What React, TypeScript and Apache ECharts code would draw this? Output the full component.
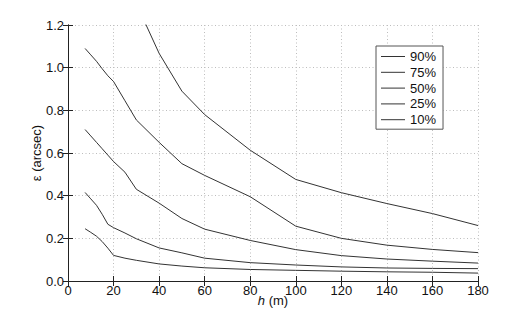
import React, { useEffect, useRef } from 'react';
import * as echarts from 'echarts';

// Height h (m)
const hValues = [7.5, 10, 12.5, 15, 17.5, 20, 25, 30, 40, 50, 60, 80, 100, 120, 140, 160, 180];

// Seeing epsilon (arcsec) per percentile
const p90 = [null, null, null, null, null, null, null, 1.3, 1.067, 0.89, 0.78, 0.613, 0.476, 0.414, 0.363, 0.316, 0.26];
const p75 = [1.09, 1.06, 1.03, 0.995, 0.962, 0.935, 0.845, 0.755, 0.65, 0.55, 0.495, 0.395, 0.257, 0.2, 0.168, 0.148, 0.133];
const p50 = [0.71, 0.68, 0.65, 0.62, 0.59, 0.56, 0.51, 0.43, 0.365, 0.293, 0.243, 0.19, 0.147, 0.119, 0.103, 0.093, 0.084];
const p25 = [0.415, 0.385, 0.355, 0.313, 0.266, 0.25, 0.225, 0.198, 0.155, 0.132, 0.107, 0.086, 0.075, 0.066, 0.061, 0.059, 0.058];
const p10 = [0.245, 0.228, 0.21, 0.185, 0.154, 0.12, 0.107, 0.097, 0.08, 0.07, 0.062, 0.054, 0.05, 0.046, 0.043, 0.041, 0.037];

const seriesNames = ['90%', '75%', '50%', '25%', '10%'];
const seriesValues = [p90, p75, p50, p25, p10];

const xMin = 0;
const xMax = 180;
const xInterval = 20;
const yMin = 0;
const yMax = 1.2;
const yInterval = 0.2;

const FONT = '"Liberation Sans", Arial, Helvetica, sans-serif';
const FS = 13;

export default function App() {
  const ref = useRef<HTMLDivElement>(null);

  useEffect(() => {
    if (!ref.current) return;
    const chart = echarts.init(ref.current, undefined, { renderer: 'svg' });

    const axisLineStyle = { color: '#222', width: 1 };
    const gridLine = { show: true, lineStyle: { color: '#bdbdbd', width: 1, type: [1, 2.5] as any } };

    const option: any = {
      animation: false,
      backgroundColor: '#ffffff',
      textStyle: { fontFamily: FONT },
      grid: { left: 68, right: 51, top: 25, bottom: 34, containLabel: false },
      legend: {
        orient: 'vertical',
        left: 376,
        top: 46,
        padding: [4, 7, 3, 5],
        itemWidth: 24,
        itemHeight: 14,
        itemGap: 2.8,
        backgroundColor: '#ffffff',
        borderColor: '#555',
        borderWidth: 1,
        borderRadius: 0,
        textStyle: { fontFamily: FONT, fontSize: FS, color: '#111' },
        data: seriesNames.map((n) => ({ name: n, icon: 'path://M0,0 L24,0 L24,1 L0,1 Z' })),
      },
      xAxis: [
        {
          type: 'value',
          min: xMin,
          max: xMax,
          interval: xInterval,
          position: 'bottom',
          name: '{i|h} (m)',
          nameLocation: 'middle',
          nameGap: 13,
          nameMoveOverlap: false,
          nameTextStyle: {
            fontFamily: FONT,
            fontSize: FS,
            color: '#111',
            rich: { i: { fontStyle: 'italic', fontFamily: FONT, fontSize: FS, color: '#111' } },
          },
          axisLine: { show: true, lineStyle: axisLineStyle },
          axisTick: { show: true, inside: true, length: 5, lineStyle: axisLineStyle },
          axisLabel: { fontFamily: FONT, fontSize: FS, color: '#111', margin: 3 },
          splitLine: gridLine,
        },
        {
          type: 'value',
          min: xMin,
          max: xMax,
          interval: xInterval,
          position: 'top',
          axisLine: { show: true, lineStyle: axisLineStyle },
          axisTick: { show: true, inside: true, length: 5, lineStyle: axisLineStyle },
          axisLabel: { show: false },
          splitLine: { show: false },
        },
      ],
      yAxis: [
        {
          type: 'value',
          min: yMin,
          max: yMax,
          interval: yInterval,
          position: 'left',
          name: 'ε (arcsec)',
          nameLocation: 'middle',
          nameGap: 25,
          nameRotate: 90,
          nameMoveOverlap: false,
          nameTextStyle: { fontFamily: FONT, fontSize: FS, color: '#111' },
          axisLine: { show: true, lineStyle: axisLineStyle },
          axisTick: { show: true, inside: true, length: 5, lineStyle: axisLineStyle },
          axisLabel: {
            fontFamily: FONT,
            fontSize: FS,
            color: '#111',
            margin: 4,
            formatter: (v: number) => v.toFixed(1),
          },
          splitLine: gridLine,
        },
        {
          type: 'value',
          min: yMin,
          max: yMax,
          interval: yInterval,
          position: 'right',
          axisLine: { show: true, lineStyle: axisLineStyle },
          axisTick: { show: true, inside: true, length: 5, lineStyle: axisLineStyle },
          axisLabel: { show: false },
          splitLine: { show: false },
        },
      ],
      series: seriesNames.map((name, k) => ({
        name,
        type: 'line',
        xAxisIndex: 0,
        yAxisIndex: 0,
        symbol: 'none',
        clip: true,
        color: '#333',
        lineStyle: { color: '#333', width: 1 },
        data: hValues.map((h, i) => [h, seriesValues[k][i] === null ? '-' : seriesValues[k][i]]),
      })),
    };

    chart.setOption(option);
    return () => chart.dispose();
  }, []);

  return (
    <div
      ref={ref}
      style={{ position: 'absolute', left: 0, top: 0, width: 529, height: 315, background: '#fff' }}
    />
  );
}
